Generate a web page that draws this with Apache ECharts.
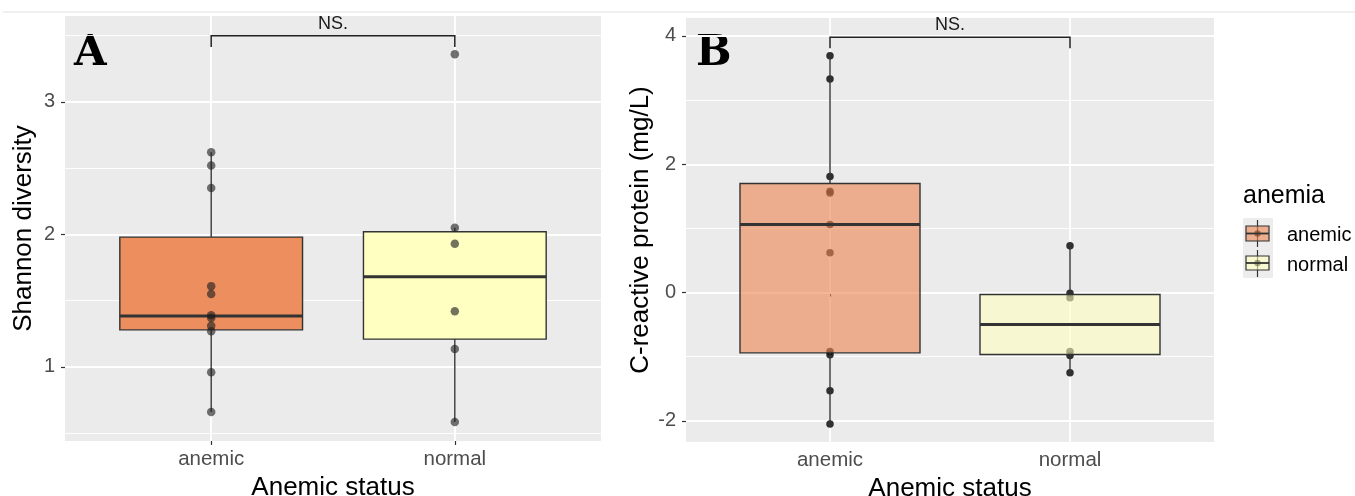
<!DOCTYPE html>
<html><head><meta charset="utf-8">
<script src="https://cdn.jsdelivr.net/npm/echarts@6/dist/echarts.min.js"></script>
<style>html,body{margin:0;padding:0;background:#fff}#c{width:1355px;height:496px}</style>
</head><body><div id="c"></div>
<script>
const categories = ['anemic', 'normal'];
const panelLabels = ['A', 'B'];
const xTitle = 'Anemic status';
const yTitles = ['Shannon diversity', 'C-reactive protein (mg/L)'];
const legendTitle = 'anemia';
const sigLabel = 'NS.';
// box stats: [lower whisker, Q1, median, Q3, upper whisker]
const shannonBoxAnemic = [0.66, 1.28, 1.385, 1.98, 2.62];
const shannonBoxNormal = [0.585, 1.21, 1.68, 2.02, 2.05];
const shannonPtsAnemic = [2.62, 2.52, 2.35, 1.61, 1.55, 1.39, 1.37, 1.31, 1.27, 0.96, 0.66];
const shannonPtsNormal = [3.36, 2.05, 1.93, 1.42, 1.135, 0.585];
const crpBoxAnemic = [-2.05, -0.94, 1.06, 1.70, 3.69];
const crpBoxNormal = [-1.25, -0.965, -0.50, -0.03, 0.73];
const crpPtsAnemic = [3.69, 3.33, 1.81, 1.58, 1.55, 1.06, 0.62, -0.92, -0.97, -1.53, -2.05];
const crpPtsNormal = [0.73, -0.01, -0.08, -0.92, -0.98, -1.25];
const shannonTicks = [1, 2, 3];
const shannonMinor = [0.5, 1.5, 2.5, 3.5];
const crpTicks = [-2, 0, 2, 4];
const crpMinor = [-1, 1, 3];
const shannonRange = [0.441, 3.649];
const crpRange = [-2.33, 4.28];
const shannonBracket = [3.415, 3.50];
const crpBracket = [3.81, 3.98];
const xRange = [0.4, 2.6];
const catPos = [1, 2];

const FONT = 'Liberation Sans, Arial, sans-serif';
const boxFillA = ['#ED8E5F', '#FFFFC2'];
const boxFillB = ['rgba(238,136,86,0.62)', 'rgba(255,255,191,0.6)'];

function boxRenderer(fills) {
  return function (params, api) {
    const x = api.value(0);
    const lo = api.coord([x, api.value(1)]);
    const q1 = api.coord([x, api.value(2)]);
    const md = api.coord([x, api.value(3)]);
    const q3 = api.coord([x, api.value(4)]);
    const hi = api.coord([x, api.value(5)]);
    const hw = api.size([0.75, 0])[0] / 2;
    const stroke = '#333333';
    return {
      type: 'group',
      children: [
        {type: 'line', shape: {x1: lo[0], y1: lo[1], x2: q1[0], y2: q1[1]}, style: {stroke, lineWidth: 1.4}},
        {type: 'line', shape: {x1: q3[0], y1: q3[1], x2: hi[0], y2: hi[1]}, style: {stroke, lineWidth: 1.4}},
        {type: 'rect', shape: {x: q3[0] - hw, y: q3[1], width: 2 * hw, height: q1[1] - q3[1]},
          style: {fill: fills[params.dataIndex], stroke, lineWidth: 1.4}},
        {type: 'line', shape: {x1: md[0] - hw, y1: md[1], x2: md[0] + hw, y2: md[1]}, style: {stroke, lineWidth: 3}}
      ]
    };
  };
}

function bracketRenderer(params, api) {
  const x1 = api.value(0), x2 = api.value(1), tip = api.value(2), top = api.value(3);
  const p1 = api.coord([x1, tip]), p2 = api.coord([x1, top]), p3 = api.coord([x2, top]), p4 = api.coord([x2, tip]);
  const mid = api.coord([(x1 + x2) / 2, top]);
  return {
    type: 'group',
    children: [
      {type: 'polyline', shape: {points: [p1, p2, p3, p4]}, style: {stroke: '#222', lineWidth: 1.5, fill: null}},
      {type: 'text', x: mid[0], y: mid[1] - 3,
        style: {text: sigLabel, font: '18px ' + FONT, fill: '#1a1a1a', align: 'center', verticalAlign: 'bottom'}}
    ]
  };
}

function xAxisCfg(gridIndex) {
  return {
    type: 'value', gridIndex, min: xRange[0], max: xRange[1],
    name: xTitle, nameLocation: 'middle', nameGap: 30,
    nameTextStyle: {fontFamily: FONT, fontSize: 26, color: '#000'},
    axisLine: {show: false},
    axisTick: {show: true, length: 4, customValues: catPos, lineStyle: {color: '#333', width: 1.2}},
    axisLabel: {customValues: catPos, margin: 8, fontFamily: FONT, fontSize: 20.5, color: '#4D4D4D',
      formatter: v => categories[Math.round(v) - 1]},
    splitLine: {show: true, lineStyle: {color: '#FFFFFF', width: 1.8}}
  };
}
function yAxisCfg(gridIndex, range, ticks, title) {
  return {
    type: 'value', gridIndex, min: range[0], max: range[1],
    name: title, nameLocation: 'middle', nameGap: 28, nameRotate: 90,
    nameTextStyle: {fontFamily: FONT, fontSize: 26, color: '#000'},
    axisLine: {show: false},
    axisTick: {show: true, length: 4, customValues: ticks, lineStyle: {color: '#333', width: 1.2}},
    axisLabel: {customValues: ticks, margin: 10, fontFamily: FONT, fontSize: 20, color: '#4D4D4D'},
    splitLine: {show: true, lineStyle: {color: '#FFFFFF', width: 1.8}},
    z: 1
  };
}
function yMinorCfg(gridIndex, range, minor) {
  return {
    type: 'value', gridIndex, min: range[0], max: range[1],
    axisLine: {show: false},
    axisTick: {show: false, customValues: minor},
    axisLabel: {show: false, customValues: minor},
    splitLine: {show: true, lineStyle: {color: '#FFFFFF', width: 0.9}},
    z: 0
  };
}

const option = {
  animation: false,
  backgroundColor: '#FFFFFF',
  grid: [
    {left: 65, top: 16, width: 536, height: 425, show: true, backgroundColor: '#EBEBEB', borderWidth: 0,
      containLabel: false, outerBoundsMode: 'none'},
    {left: 686, top: 18, width: 528, height: 424, show: true, backgroundColor: '#EBEBEB', borderWidth: 0,
      containLabel: false, outerBoundsMode: 'none'}
  ],
  xAxis: [xAxisCfg(0), xAxisCfg(1)],
  yAxis: [
    yAxisCfg(0, shannonRange, shannonTicks, yTitles[0]),
    yMinorCfg(0, shannonRange, shannonMinor),
    yAxisCfg(1, crpRange, crpTicks, yTitles[1]),
    yMinorCfg(1, crpRange, crpMinor)
  ],
  series: [
    {type: 'custom', xAxisIndex: 0, yAxisIndex: 0, z: 2, renderItem: boxRenderer(boxFillA),
      data: [[catPos[0], ...shannonBoxAnemic], [catPos[1], ...shannonBoxNormal]]},
    {type: 'scatter', xAxisIndex: 0, yAxisIndex: 0, z: 3, symbolSize: 8.5,
      itemStyle: {color: 'rgba(30,30,30,0.78)'},
      data: shannonPtsAnemic.map(v => [catPos[0], v]).concat(shannonPtsNormal.map(v => [catPos[1], v]))},
    {type: 'custom', xAxisIndex: 0, yAxisIndex: 0, z: 4, renderItem: bracketRenderer,
      data: [[catPos[0], catPos[1], shannonBracket[0], shannonBracket[1]]]},
    {type: 'scatter', xAxisIndex: 1, yAxisIndex: 2, z: 2, symbolSize: 7.5,
      itemStyle: {color: '#000000'},
      data: crpPtsAnemic.map(v => [catPos[0], v]).concat(crpPtsNormal.map(v => [catPos[1], v]))},
    {type: 'custom', xAxisIndex: 1, yAxisIndex: 2, z: 3, renderItem: boxRenderer(boxFillB),
      data: [[catPos[0], ...crpBoxAnemic], [catPos[1], ...crpBoxNormal]]},
    {type: 'custom', xAxisIndex: 1, yAxisIndex: 2, z: 4, renderItem: bracketRenderer,
      data: [[catPos[0], catPos[1], crpBracket[0], crpBracket[1]]]}
  ],
  graphic: [
    {type: 'line', shape: {x1: 3, y1: 12, x2: 1355, y2: 12}, style: {stroke: '#E2E2E2', lineWidth: 1}, silent: true},
    {type: 'text', x: 74, y: 54, style: {text: panelLabels[0], font: 'bold 42px DejaVu Serif', fill: '#000', verticalAlign: 'middle'}},
    {type: 'text', x: 696, y: 54, style: {text: panelLabels[1], font: 'bold 42px DejaVu Serif', fill: '#000', verticalAlign: 'middle'}},
    {type: 'text', x: 1243, y: 196, style: {text: legendTitle, font: '25px ' + FONT, fill: '#000', verticalAlign: 'middle'}},
    {type: 'rect', shape: {x: 1243, y: 218, width: 30, height: 60}, style: {fill: '#EDEDED'}},
    // anemic key
    {type: 'line', shape: {x1: 1257.5, y1: 220, x2: 1257.5, y2: 247}, style: {stroke: '#333', lineWidth: 1.2}},
    {type: 'rect', shape: {x: 1246, y: 226, width: 23, height: 15}, style: {fill: boxFillB[0], stroke: '#333', lineWidth: 1.2}},
    {type: 'circle', shape: {cx: 1257.5, cy: 233.5, r: 3.2}, style: {fill: 'rgba(120,60,30,0.6)'}},
    {type: 'line', shape: {x1: 1246, y1: 233.5, x2: 1269, y2: 233.5}, style: {stroke: '#333', lineWidth: 1.8}},
    // normal key
    {type: 'line', shape: {x1: 1257.5, y1: 250, x2: 1257.5, y2: 277}, style: {stroke: '#333', lineWidth: 1.2}},
    {type: 'rect', shape: {x: 1246, y: 256, width: 23, height: 14}, style: {fill: boxFillB[1], stroke: '#333', lineWidth: 1.2}},
    {type: 'circle', shape: {cx: 1257.5, cy: 263, r: 3.2}, style: {fill: 'rgba(90,90,40,0.5)'}},
    {type: 'line', shape: {x1: 1246, y1: 263, x2: 1269, y2: 263}, style: {stroke: '#333', lineWidth: 1.8}},
    {type: 'text', x: 1287, y: 235, style: {text: categories[0], font: '20px ' + FONT, fill: '#000', verticalAlign: 'middle'}},
    {type: 'text', x: 1287, y: 265, style: {text: categories[1], font: '20px ' + FONT, fill: '#000', verticalAlign: 'middle'}}
  ]
};
const chart = echarts.init(document.getElementById('c'), null, {renderer: 'canvas'});
chart.setOption(option);
</script></body></html>
